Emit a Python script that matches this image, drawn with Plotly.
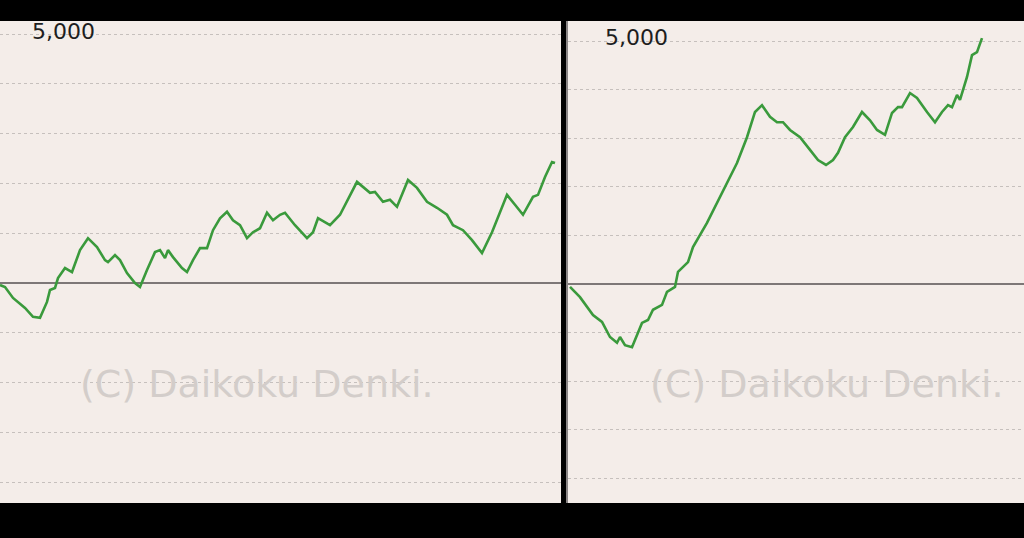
import plotly.graph_objects as go

# Left panel: balance (coins) vs. progress
left_x = [0, 5, 13, 25, 33, 40, 47, 50, 55, 58, 65, 72, 80, 88, 97, 105, 108, 115, 120, 127,
          135, 140, 147, 155, 160, 165, 168, 173, 182, 187, 193, 200, 207, 213, 220, 227, 233,
          240, 247, 253, 260, 267, 273, 280, 285, 295, 307, 313, 318, 325, 330, 340, 357, 370,
          375, 383, 390, 397, 408, 417, 427, 437, 447, 453, 463, 472, 482, 492, 500, 507, 515,
          523, 533, 538, 545, 552, 555]
left_y = [-40, -80, -300, -500, -680, -700, -380, -140, -100, 100, 300, 220, 660, 900, 720, 460,
          420, 560, 460, 200, 0, -80, 260, 620, 660, 500, 660, 520, 300, 220, 460, 700, 700, 1060,
          1300, 1430, 1260, 1160, 900, 1020, 1100, 1410, 1260, 1370, 1410, 1160, 900, 1020, 1300,
          1220, 1160, 1370, 2030, 1810, 1830, 1630, 1670, 1530, 2070, 1910, 1630, 1510, 1370,
          1160, 1060, 860, 600, 1020, 1410, 1770, 1570, 1370, 1730, 1770, 2130, 2430, 2410]

# Right panel
right_x = [2, 12, 25, 34, 42, 49, 52, 57, 64, 74, 80, 85, 94, 99, 107, 110, 120, 125, 139, 159,
           169, 179, 187, 194, 202, 209, 215, 222, 232, 242, 250, 258, 265, 270, 277, 285, 294,
           302, 309, 317, 324, 330, 334, 342, 349, 359, 367, 374, 380, 384, 389, 392, 399, 404,
           409, 414]
right_y = [-60, -270, -640, -780, -1090, -1210, -1090, -1260, -1300, -800, -740, -530, -430,
           -160, -60, 250, 450, 760, 1260, 2080, 2490, 3020, 3540, 3680, 3440, 3330, 3330, 3170,
           3020, 2760, 2550, 2450, 2550, 2700, 3020, 3230, 3540, 3370, 3170, 3070, 3520, 3640,
           3640, 3930, 3830, 3540, 3330, 3540, 3680, 3640, 3890, 3790, 4260, 4710, 4770, 5060]

label_5000 = "5,000"
watermark = "(C) Daikoku Denki."

GREEN = "#3a9a3c"
BG = "#f4ede9"
GRID = "#c6c0bd"
ZERO = "#7d7777"

fig = go.Figure()
fig.add_trace(go.Scatter(x=left_x, y=left_y, mode="lines", line=dict(color=GREEN, width=2.6),
                         xaxis="x", yaxis="y", showlegend=False, hoverinfo="skip"))
fig.add_trace(go.Scatter(x=right_x, y=right_y, mode="lines", line=dict(color=GREEN, width=2.6),
                         xaxis="x2", yaxis="y2", showlegend=False, hoverinfo="skip"))

ydom = [35 / 538, 517 / 538]
common_x = dict(showgrid=False, zeroline=False, showticklabels=False, showline=False, fixedrange=True)
common_y = dict(showgrid=True, gridcolor=GRID, griddash="dot", gridwidth=1, dtick=1000, tick0=0,
                zeroline=True, zerolinecolor=ZERO, zerolinewidth=2, showticklabels=False,
                ticks="", fixedrange=True)

fig.update_layout(
    width=1024, height=538,
    margin=dict(l=0, r=0, t=0, b=0),
    paper_bgcolor="#000000",
    plot_bgcolor=BG,
    xaxis=dict(domain=[0, 561 / 1024], range=[0, 561], anchor="y", **common_x),
    yaxis=dict(domain=ydom, range=[-4418, 5261], anchor="x", showline=False, **common_y),
    xaxis2=dict(domain=[568 / 1024, 1], range=[0, 456], anchor="y2", **common_x),
    yaxis2=dict(domain=ydom, range=[-4506, 5412], anchor="x2", showline=True,
                linecolor="#8a8585", linewidth=2, **common_y),
    annotations=[
        dict(x=63, y=5000, xref="x", yref="y", text=label_5000, showarrow=False,
             font=dict(family="DejaVu Sans", size=22, color="#1e1e1e"), yshift=2),
        dict(x=68, y=5000, xref="x2", yref="y2", text=label_5000, showarrow=False,
             font=dict(family="DejaVu Sans", size=22, color="#1e1e1e"), yshift=4),
        dict(x=257, y=-2028, xref="x", yref="y", text=watermark, showarrow=False,
             font=dict(family="DejaVu Sans", size=38, color="#d3cdca")),
        dict(x=259, y=-2058, xref="x2", yref="y2", text=watermark, showarrow=False,
             font=dict(family="DejaVu Sans", size=38, color="#d3cdca")),
    ],
)

fig.write_html(
    "out.html",
    config={"displayModeBar": False},
    post_script="document.body.style.margin='0';document.body.style.overflow='hidden';"
                "document.body.style.background='#000';",
)
